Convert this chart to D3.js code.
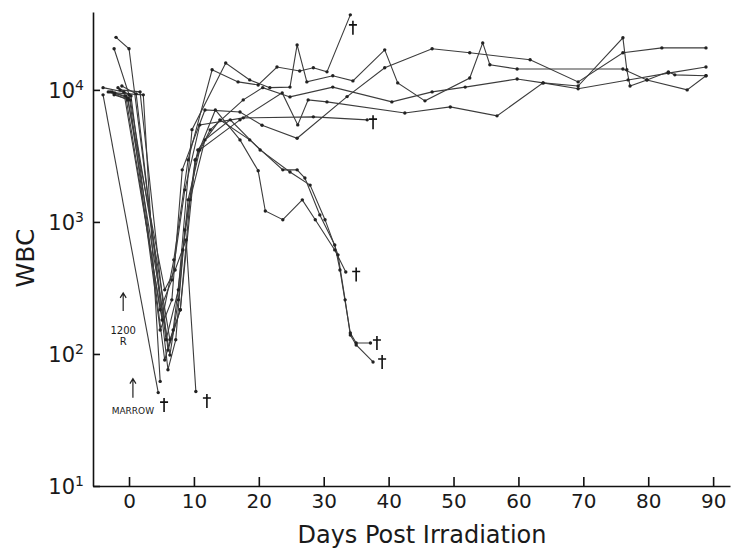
<!DOCTYPE html>
<html>
<head>
<meta charset="utf-8">
<script src="https://cdn.jsdelivr.net/npm/d3@7"></script>
<style>
  body { margin: 0; background: #fff; }
  text { font-family: "DejaVu Sans", sans-serif; fill: #1a1a1a; }
</style>
</head>
<body>
<svg id="chart" width="732" height="552"></svg>
<script>
// tick values
var dayTicks = [0, 10, 20, 30, 40, 50, 60, 70, 80, 90];
var wbcTicks = [10, 100, 1000, 10000];

// one array per animal: [day, WBC]
var mouseA = [[-2.3, 20500], [0, 9200], [4.8, 152], [6.6, 257], [8.2, 2480], [11.7, 7050], [17.1, 6800], [20.5, 5400], [25.9, 4300], [33.6, 8900], [39.4, 14700], [46.7, 20500], [52.5, 19100], [61.8, 16900], [69.2, 11500], [76.1, 19100], [82.1, 20800], [88.9, 20800]];
var mouseB = [[-2, 25000], [0, 20500], [5.7, 128], [7.6, 306], [9.7, 5000], [14.9, 16000], [18.6, 11900], [21.7, 10400], [24.8, 10500], [25.9, 21900], [27.4, 11500], [31.4, 12800], [34.5, 11700], [39.4, 20100], [41.4, 11300], [45.6, 8260], [52.5, 12300], [54.5, 22700], [55.6, 15500], [59.8, 14400], [76.1, 14400], [79.8, 11900], [86, 10000], [88.9, 12800]];
var mouseC = [[-4, 10400], [-0.8, 9660], [5.1, 181], [6.9, 516], [9.1, 2950], [12.8, 14200], [16.8, 11500], [19.9, 10900], [22.8, 14900], [26.3, 13900], [28.4, 14700], [30.5, 13700], [34.1, 37000]];
var mouseD = [[-1.4, 10000], [1.7, 9660], [6, 107], [7.9, 216], [10.2, 2950], [12.5, 4980], [17.6, 8400], [20.6, 10400], [24.8, 8850], [31.4, 10500], [40.5, 8110], [46.7, 9660], [51.8, 10500], [59.8, 12100], [63.8, 11300], [69.2, 10200], [76.9, 11900], [83.1, 13400], [88.9, 14900]];
var mouseE = [[-2.6, 9660], [-0.2, 8700], [6.3, 98], [7.6, 257], [9.1, 1470], [10.9, 3510], [17.1, 5930], [23.6, 9490], [26, 5430], [27.6, 8400], [30.5, 8110], [42.5, 6690], [49.5, 7430], [56.7, 6360], [63.8, 11300], [69.2, 10700], [76.1, 24800], [76.7, 14200], [77.2, 10700], [79.8, 11900], [83.1, 13700], [84.1, 13000], [88.9, 12800]];
var mouseF = [[-3.2, 9660], [-0.5, 9000], [4.8, 216], [6.6, 364], [8.6, 1750], [10.9, 5430], [17.6, 6140], [28.4, 6250], [36.7, 5930]];
var mouseG = [[-1.7, 10400], [0.3, 9000], [5.5, 90], [6.8, 152], [8.3, 614], [10.2, 2950], [13.3, 7050], [17.1, 4180], [19.9, 2440], [21, 1210], [23.7, 1040], [26.7, 1470], [28.7, 1040], [31.7, 614], [33.4, 418]];
var mouseH = [[-1.1, 10700], [1.1, 9330], [6, 76], [7.2, 128], [8.6, 869], [10.6, 3510], [14, 5930], [18.6, 4180], [23.7, 2480], [25.9, 2480], [27.1, 2150], [29.4, 1130], [31.7, 670], [32.5, 433], [34.1, 144], [35, 121], [37.2, 121]];
var mouseI = [[-2.3, 9170], [0.2, 8400], [6.3, 128], [7.9, 216], [9.4, 1470], [11.7, 4180], [15.6, 5930], [20.2, 3510], [24.8, 2390], [27.9, 1900], [30.2, 1040], [32.2, 563], [33.3, 257], [34.1, 139], [35, 117], [37.6, 87]];
var mouseJ = [[-4, 9170], [4.5, 51]];
var mouseK = [[-2.2, 9500], [2.2, 9170], [4.8, 62]];
var mouseL = [[-2.9, 9660], [-0.2, 8400], [5.5, 306], [7.1, 433], [8.8, 731], [10.3, 52]];

var mice = [mouseA, mouseB, mouseC, mouseD, mouseE, mouseF, mouseG, mouseH, mouseI, mouseJ, mouseK, mouseL];

// crosses marking deaths: [day, WBC]
var deaths = [[34.5, 29500], [37.6, 5700], [35, 400], [38.2, 121], [39, 87], [5.4, 41], [12, 44]];

var svg = d3.select('#chart');

var x = d3.scaleLinear().domain([-5.55, 92.6]).range([93, 730]);
var y = d3.scaleLog().domain([10, 38900]).range([486, 12]);

// axes
var xAxis = d3.axisBottom(x)
  .tickValues(dayTicks)
  .tickSizeInner(-9)
  .tickSizeOuter(0)
  .tickPadding(8);
var gx = svg.append('g')
  .attr('transform', 'translate(0,486)')
  .call(xAxis);
gx.selectAll('text').style('font-size', '20px').attr('fill', '#1a1a1a');

var yAxis = d3.axisLeft(y)
  .tickValues(wbcTicks)
  .tickSizeInner(-7)
  .tickSizeOuter(0)
  .tickFormat('');
var gy = svg.append('g')
  .attr('transform', 'translate(93,0)')
  .call(yAxis);
gy.selectAll('.tick').each(function(d) {
  var t = d3.select(this).append('text')
    .attr('x', -9)
    .attr('dy', '0.35em')
    .attr('text-anchor', 'end')
    .style('font-size', '21px');
  t.append('tspan').text('10');
  t.append('tspan')
    .attr('dy', '-0.55em')
    .style('font-size', '14px')
    .text(Math.round(Math.log10(d)));
});

svg.selectAll('.domain, .tick line')
  .attr('stroke', '#111')
  .attr('stroke-width', 1.6);

// axis titles
svg.append('text')
  .attr('x', 422)
  .attr('y', 543)
  .attr('text-anchor', 'middle')
  .style('font-size', '24px')
  .text('Days Post Irradiation');

svg.append('text')
  .attr('transform', 'translate(34,258) rotate(-90)')
  .attr('text-anchor', 'middle')
  .style('font-size', '25px')
  .text('WBC');

// animal curves
var line = d3.line()
  .x(function(d) { return x(d[0]); })
  .y(function(d) { return y(d[1]); });

svg.append('g').selectAll('path')
  .data(mice)
  .enter().append('path')
  .attr('d', line)
  .attr('fill', 'none')
  .attr('stroke', '#3c3c3c')
  .attr('stroke-width', 1.1);

svg.append('g').selectAll('g')
  .data(mice)
  .enter().append('g')
  .selectAll('circle')
  .data(function(d) { return d; })
  .enter().append('circle')
  .attr('cx', function(d) { return x(d[0]); })
  .attr('cy', function(d) { return y(d[1]); })
  .attr('r', 1.7)
  .attr('fill', '#222');

// daggers
svg.append('g').selectAll('path')
  .data(deaths)
  .enter().append('path')
  .attr('d', function(d) {
    var cx = x(d[0]), cy = y(d[1]);
    return 'M' + cx + ',' + (cy - 7) + 'V' + (cy + 7) +
           'M' + (cx - 4) + ',' + (cy - 3) + 'H' + (cx + 4);
  })
  .attr('stroke', '#111')
  .attr('stroke-width', 1.6)
  .attr('fill', 'none');

// treatment notes
function arrowUp(day, wbcTop, len) {
  var ax = x(day), ay = y(wbcTop);
  svg.append('path')
    .attr('d', 'M' + ax + ',' + (ay + len) + 'V' + ay +
               'M' + (ax - 3) + ',' + (ay + 5) + 'L' + ax + ',' + ay + 'L' + (ax + 3) + ',' + (ay + 5))
    .attr('stroke', '#222')
    .attr('stroke-width', 1.2)
    .attr('fill', 'none');
}
arrowUp(-0.9, 290, 18);
svg.append('text').attr('x', x(-0.9)).attr('y', 334)
  .attr('text-anchor', 'middle').style('font-size', '10px').text('1200');
svg.append('text').attr('x', x(-0.9)).attr('y', 345)
  .attr('text-anchor', 'middle').style('font-size', '10px').text('R');

arrowUp(0.6, 65, 19);
svg.append('text').attr('x', x(0.6)).attr('y', 414)
  .attr('text-anchor', 'middle').style('font-size', '9px').text('MARROW');
</script>
</body>
</html>
